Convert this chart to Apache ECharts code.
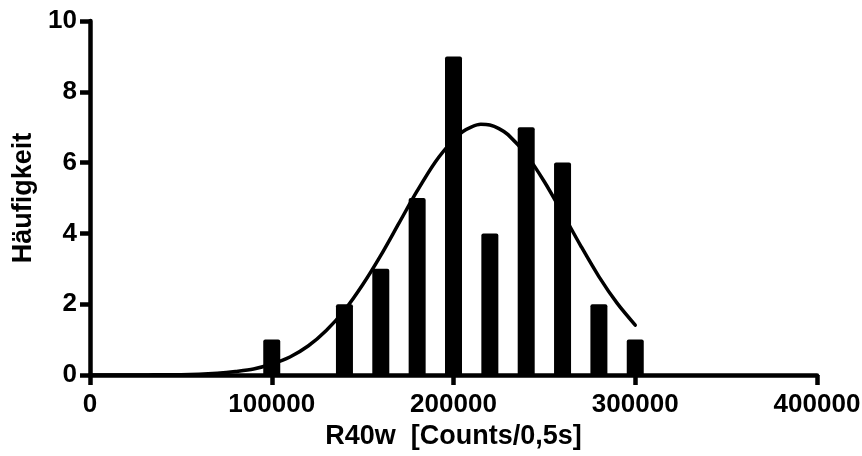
<!DOCTYPE html>
<html>
<head>
<meta charset="utf-8">
<script src="https://cdn.jsdelivr.net/npm/echarts@6/dist/echarts.min.js"></script>
<style>
  html, body { margin: 0; padding: 0; background: #fff; }
  #myChart { width: 862px; height: 456px; }
</style>
</head>
<body>
<div id="myChart"></div>
<script>
// histogram classes (bin centres) and counts
const binCenters = [100000, 140000, 160000, 180000, 200000, 220000, 240000, 260000, 280000, 300000]
const counts = [1, 2, 3, 5, 9, 4, 7, 6, 2, 1]

// fitted curve
const curveX = [0, 10000, 20000, 30000, 40000, 50000, 60000, 70000, 80000, 90000,
  100000, 110000, 120000, 130000, 140000, 150000, 160000, 170000, 180000, 190000,
  200000, 205000, 210000, 215000, 220000, 225000, 230000, 240000, 250000, 260000, 270000, 280000, 290000, 300000]
const curveY = [0, 0, 0, 0, 0.01, 0.01, 0.02, 0.05, 0.10, 0.17,
  0.31, 0.51, 0.82, 1.26, 1.83, 2.55, 3.38, 4.29, 5.20, 6.02,
  6.65, 6.87, 7.01, 7.08, 7.06, 6.96, 6.79, 6.23, 5.46, 4.57, 3.65, 2.78, 2.03, 1.41]

const xTicks = [0, 100000, 200000, 300000, 400000]
const yTicks = [0, 2, 4, 6, 8, 10]

const font = '"Liberation Sans", Arial, sans-serif'
const barData = binCenters.map((x, i) => [x, counts[i]])
const lineData = curveX.map((x, i) => [x, curveY[i]])

const myChart = echarts.init(document.getElementById('myChart'))
myChart.setOption({
  animation: false,
  backgroundColor: '#fff',
  grid: {
    left: 90,
    right: 45,
    top: 21,
    bottom: 81,
    outerBoundsMode: 'none'
  },
  xAxis: {
    type: 'value',
    min: xTicks[0],
    max: xTicks[xTicks.length - 1],
    interval: xTicks[1] - xTicks[0],
    name: 'R40w  [Counts/0,5s]',
    nameLocation: 'middle',
    nameGap: 46,
    nameTextStyle: { color: '#000', fontFamily: font, fontWeight: 'bold', fontSize: 27 },
    splitLine: { show: false },
    axisLine: { onZero: false, lineStyle: { color: '#000', width: 4.5 } },
    axisTick: { length: 10, lineStyle: { color: '#000', width: 4.5 } },
    axisLabel: {
      color: '#000', fontFamily: font, fontWeight: 'bold', fontSize: 26, margin: 17,
      formatter: v => String(v)
    }
  },
  yAxis: {
    type: 'value',
    min: yTicks[0],
    max: yTicks[yTicks.length - 1],
    interval: yTicks[1] - yTicks[0],
    name: 'Häufigkeit',
    nameLocation: 'middle',
    nameGap: 53,
    nameTextStyle: { color: '#000', fontFamily: font, fontWeight: 'bold', fontSize: 27 },
    splitLine: { show: false },
    axisLine: { show: true, lineStyle: { color: '#000', width: 4.5 } },
    axisTick: { show: true, length: 10, lineStyle: { color: '#000', width: 4.5 } },
    axisLabel: { color: '#000', fontFamily: font, fontWeight: 'bold', fontSize: 26, margin: 13 }
  },
  series: [
    {
      type: 'bar',
      data: barData,
      barWidth: 17,
      itemStyle: { color: '#000', borderRadius: [2, 2, 0, 0] },
      z: 2
    },
    {
      type: 'line',
      data: lineData,
      smooth: 0.3,
      showSymbol: false,
      symbol: 'none',
      lineStyle: { color: '#000', width: 3.5, cap: 'round' },
      z: 3
    }
  ]
})
</script>
</body>
</html>
